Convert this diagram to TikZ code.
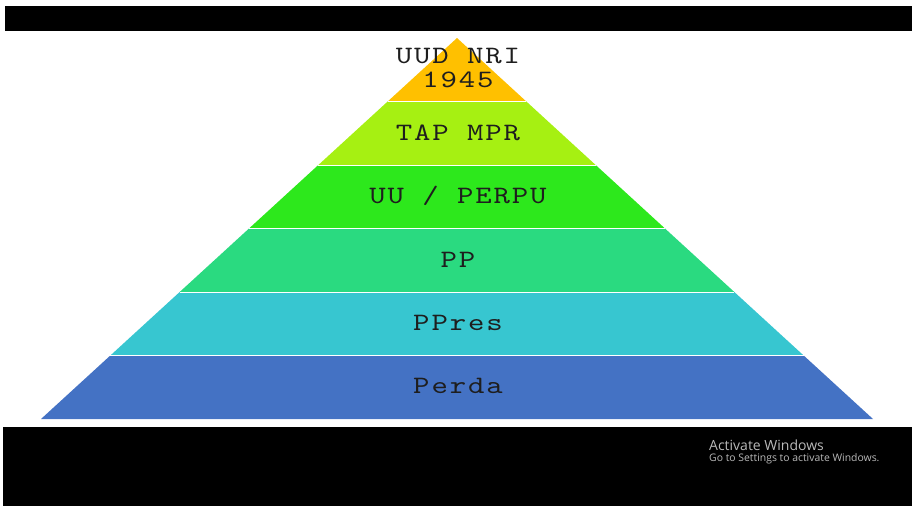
\documentclass[tikz,border=0pt]{standalone}
\usepackage{fontspec}
\usetikzlibrary{calc}
\newfontfamily\winfont{Open Sans}
\newfontfamily\pyrmono{lmmono10-regular}[Extension=.otf, FakeStretch=1.25, LetterSpace=7.5]
\definecolor{layergold}{RGB}{255,192,0}
\definecolor{layerlime}{RGB}{166,240,18}
\definecolor{layergreen}{RGB}{45,232,28}
\definecolor{layermint}{RGB}{42,218,128}
\definecolor{layercyan}{RGB}{55,198,208}
\definecolor{layerblue}{RGB}{68,114,196}
\definecolor{wingray}{RGB}{185,185,185}
\definecolor{labelink}{RGB}{30,30,30}
\newcommand{\pyrfont}{\pyrmono\fontsize{25}{24}\selectfont}
\tikzset{
  layerlabel/.style={font=\pyrfont, text=labelink, inner sep=0pt, align=center},
  winlabel/.style={text=wingray, inner sep=0pt, anchor=west}
}

\begin{document}
\begin{tikzpicture}[x=1pt,y=-1pt]
    \useasboundingbox (0,0) rectangle (912,506);

    % Black bars
    \fill[black] (5,6) rectangle (912,31);
    \fill[black] (3,427) rectangle (912,506);

    % Pyramid corners
    \coordinate (apex) at (457,38);
    \coordinate (bl) at (41,419);
    \coordinate (br) at (873,419);

    % Six equal bands
    \foreach \col [count=\i from 0] in {layergold,layerlime,layergreen,layermint,layercyan,layerblue} {
        \pgfmathsetmacro{\ta}{\i/6}
        \pgfmathsetmacro{\tb}{(\i+1)/6}
        \fill[\col] ($(apex)!\ta!(bl)$) -- ($(apex)!\tb!(bl)$)
            -- ($(apex)!\tb!(br)$) -- ($(apex)!\ta!(br)$) -- cycle;
    }

    % Separators
    \foreach \i in {1,...,5} {
        \draw[white, line width=0.8pt] ($(apex)!\i/6!(bl)$) -- ($(apex)!\i/6!(br)$);
    }

    % Labels
    \node[layerlabel] (uud) at (458,68) {UUD NRI\\1945};
    \node[layerlabel] (tap) at (458,133) {TAP MPR};
    \node[layerlabel] (uu) at (458,196) {UU / PERPU};
    \node[layerlabel] (pp) at (458,260) {PP};
    \node[layerlabel] (ppres) at (458,323) {PPres};
    \node[layerlabel] (perda) at (458,386) {Perda};

    % Watermark
    \node[winlabel, font=\winfont\fontsize{14}{16}\selectfont] (act) at (709,445) {Activate Windows};
    \node[winlabel, font=\winfont\fontsize{10.4}{12}\selectfont] (goset) at (709,459) {Go to Settings to activate Windows.};
\end{tikzpicture}
\end{document}
